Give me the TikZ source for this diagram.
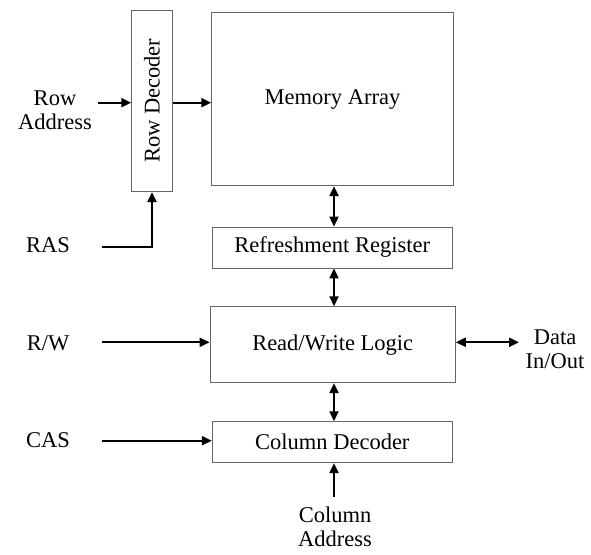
\documentclass[tikz,border=0pt]{standalone}
\usepackage{fontspec}
\setmainfont{Liberation Serif}
\usetikzlibrary{arrows.meta}

\tikzset{
  blk/.style={draw=gray!80!black, line width=0.9pt, inner sep=0pt, align=center},
  sig/.style={line width=2.1pt, -{Triangle[length=10pt,width=9pt]}},
  bisig/.style={line width=2.1pt, {Triangle[length=10pt,width=9pt]}-{Triangle[length=10pt,width=9pt]}},
}

\begin{document}
\begin{tikzpicture}[x=1pt, y=-1pt, every node/.style={font=\fontsize{22.5}{24}\selectfont, align=center}]
        \useasboundingbox (0,0) rectangle (591,554);

        \node[blk, minimum width=40.6pt, minimum height=181.7pt] (RD) at (152,100.8) {};
        \node[rotate=90] at (RD.center) {Row Decoder};
        \node[blk, minimum width=241.6pt, minimum height=173.4pt] (MA) at (332.5,99) {Memory Array};
        \node[blk, minimum width=240.3pt, minimum height=41pt] (RR) at (332.2,247.5) {Refreshment Register};
        \node[blk, minimum width=245.3pt, minimum height=76pt] (RW) at (332.7,344.7) {Read/Write Logic};
        \node[blk, minimum width=240pt, minimum height=41pt] (CD) at (332.3,442.2) {Column Decoder};

        \node (RA) at (55,110) {Row\\Address};
        \node (RAS) at (48,245) {RAS};
        \node (RWS) at (48,343) {R/W};
        \node (CAS) at (48,440) {CAS};
        \node (DIO) at (555,349) {Data\\In/Out};
        \node[inner sep=0pt] (CA) at (335,527) {Column\\Address};

        \coordinate (RAin) at (98,102.7);
        \coordinate (RASin) at (101.7,246.7);
        \coordinate (RWin) at (101.7,342.3);
        \coordinate (CASin) at (101.7,440.7);
        \coordinate (DIOout) at (519,342.3);
        \coordinate (CAin) at (334,496.7);

        \draw[sig] (RAin) -- (RAin -| RD.west);
        \draw[sig] (RD.east |- RAin) -- (MA.west |- RAin);
        \draw[sig] (RASin) -| (RD.south);
        \draw[bisig] (MA.south -| 334,0) -- (RR.north -| 334,0);
        \draw[bisig] (RR.south -| 334,0) -- (RW.north -| 334,0);
        \draw[bisig] (RW.south -| 334,0) -- (CD.north -| 334,0);
        \draw[sig] (RWin) -- (RWin -| RW.west);
        \draw[sig] (CASin) -- (CASin -| CD.west);
        \draw[bisig] (RW.east |- DIOout) -- (DIOout);
        \draw[sig] (CAin) -- (CAin |- CD.south);
    \end{tikzpicture}
\end{document}
